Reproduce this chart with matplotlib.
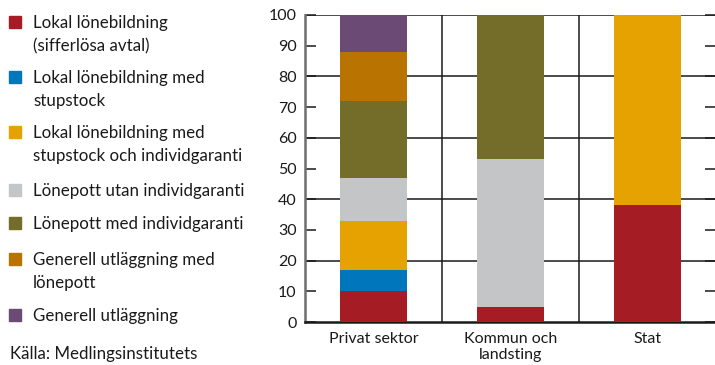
import matplotlib.pyplot as plt
from matplotlib.patches import Rectangle

plt.rcParams['font.family'] = ['Lato', 'DejaVu Sans']

sektorer = ["Privat sektor", "Kommun och\nlandsting", "Stat"]
serier = [
    "Lokal lönebildning\n(sifferlösa avtal)",
    "Lokal lönebildning med\nstupstock",
    "Lokal lönebildning med\nstupstock och individgaranti",
    "Lönepott utan individgaranti",
    "Lönepott med individgaranti",
    "Generell utläggning med\nlönepott",
    "Generell utläggning",
]
farger = ["#A51C24", "#0077BD", "#E6A200", "#C4C5C7", "#746D29", "#B87300", "#6B4A76"]

# andel avtal per sektor (procent), en lista per avtalstyp
sifferlosa = [10, 5, 38]
stupstock = [7, 0, 0]
stupstock_garanti = [16, 0, 62]
pott_utan = [14, 48, 0]
pott_med = [25, 47, 0]
generell_pott = [16, 0, 0]
generell = [12, 0, 0]
varden = [sifferlosa, stupstock, stupstock_garanti, pott_utan, pott_med,
          generell_pott, generell]

W, H = 715, 365
fig = plt.figure(figsize=(W / 100, H / 100), dpi=100)
ax = fig.add_axes([305 / W, 1 - 322 / H, (716 - 305) / W, (322 - 15) / H])

x = range(len(sektorer))
botten = [0] * len(sektorer)
for vals, c in zip(varden, farger):
    ax.bar(x, vals, width=0.49, bottom=botten, color=c, zorder=3)
    botten = [b + v for b, v in zip(botten, vals)]

ax.set_xlim(-0.5, 2.5)
ax.set_ylim(0, 100)
for y in range(20, 101, 20):
    ax.axhline(y, color="#1a1a1a", lw=1.1, zorder=1)
for xv in (0.5, 1.5):
    ax.axvline(xv, color="#1a1a1a", lw=1.1, zorder=1)

ax.set_yticks(range(0, 101, 10))
ax.tick_params(axis="y", direction="in", length=8, width=1.1, color="#1a1a1a",
               labelsize=11.5, pad=6, right=True, labelcolor="#1a1a1a")
ax.tick_params(axis="x", length=0, labelsize=11.5, pad=7, labelcolor="#1a1a1a")
ax.set_xticks(list(x))
ax.set_xticklabels(sektorer, linespacing=1.25)
for lab in ax.get_xticklabels():
    lab.set_va("top")

for s in ("top", "right"):
    ax.spines[s].set_visible(False)
ax.spines["left"].set_color("#6e6e6e")
ax.spines["left"].set_linewidth(1.8)
ax.spines["bottom"].set_color("#1a1a1a")
ax.spines["bottom"].set_linewidth(1.8)

# förklaring till vänster
rader_y = [21, 76, 131, 189, 222, 258, 314]
for namn, c, ry in zip(serier, farger, rader_y):
    fig.patches.append(Rectangle((9 / W, 1 - (ry + 7) / H), 12 / W, 12 / H,
                                 color=c, transform=fig.transFigure))
    fig.text(33 / W, 1 - (ry - 6) / H, namn, fontsize=12.2, va="top", ha="left",
             color="#1a1a1a", linespacing=1.55)
fig.text(10 / W, 1 - 346 / H, "Källa: Medlingsinstitutets", fontsize=12.2,
         va="top", ha="left", color="#1a1a1a")

fig.savefig("out.png", dpi=100)
